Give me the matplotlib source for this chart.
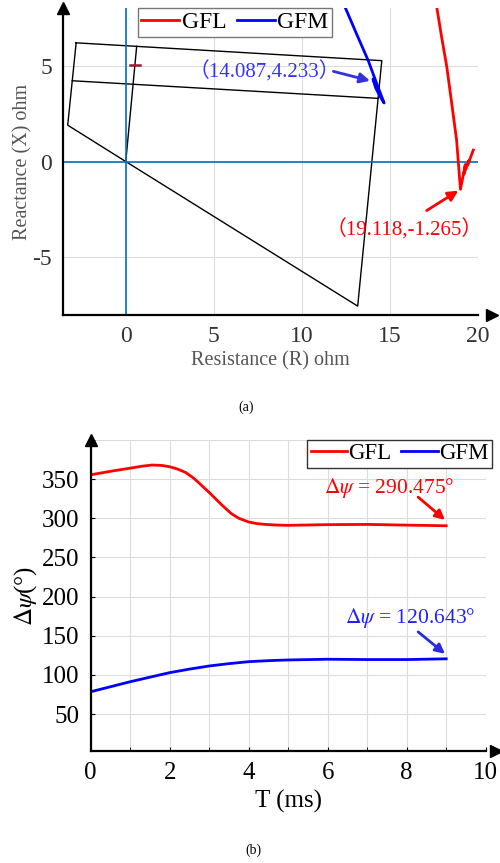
import matplotlib
matplotlib.use("Agg")
import matplotlib.pyplot as plt

plt.rcParams.update({"font.family": ["Liberation Serif", "Noto Sans CJK SC"],
                     "mathtext.fontset": "stix", "axes.linewidth": 1.6,
                     "axes.unicode_minus": False})

# ---- panel (a): impedance plane ----
zone_r = [-2.82, 14.55, 13.18, 0.0, -3.3, -2.82]
zone_x = [6.2, 5.27, -7.55, 0.0, 1.9, 6.2]
inner_r = [-3.04, 14.34]
inner_x = [4.22, 3.3]
reach_r = [0.0, 0.62]
reach_x = [0.0, 6.02]
mark_r = [0.25, 0.82]
mark_x = [5.06, 5.06]

gfm_r = [12.47, 13.1, 13.78, 14.25, 14.68, 14.45, 14.2, 14.05, 14.12, 14.087]
gfm_x = [8.05, 6.7, 5.27, 4.1, 3.06, 3.4, 3.85, 4.3, 4.35, 4.233]
gfl_r = [17.67, 17.95, 18.24, 18.5, 18.8, 19.02, 19.3, 19.22, 19.5, 19.42, 19.75]
gfl_x = [8.08, 6.5, 4.97, 3.2, 1.13, -1.45, -0.15, -0.65, 0.05, -0.2, 0.6]

# ---- panel (b): angle difference vs time ----
t_gfl = [0, 0.5, 1, 1.3, 1.55, 1.8, 2, 2.2, 2.4, 2.6, 2.73, 2.87, 3, 3.15, 3.3, 3.45, 3.56,
         3.75, 4, 4.2, 4.4, 4.7, 5, 6, 7, 8, 9]
psi_gfl = [355.5, 360, 364, 366.5, 368, 367.5, 365.8, 362.8, 358.6, 351.5, 345.7, 339, 333,
           325.5, 318, 311, 306, 300, 295.3, 293.3, 292.3, 291.4, 291, 291.9, 292.2, 291.3,
           290.475]
t_gfm = [0, 0.5, 1, 1.5, 2, 2.5, 3, 3.5, 4, 4.5, 5, 6, 7, 8, 9]
psi_gfm = [78.6, 85, 91.4, 97.2, 103, 107.5, 111.5, 114.5, 117, 118.3, 119.2, 120.1, 119.7,
           119.7, 120.643]

RED, BLUE = "#ff0000", "#0000ff"

fig = plt.figure(figsize=(5, 8.63), dpi=100)
ax1 = fig.add_axes([0.1266, 0.6353, 0.8288, 0.355])
ax2 = fig.add_axes([0.1814, 0.1298, 0.79, 0.3604])


def arrow(ax, tip, tail, color, size=15):
    ax.annotate("", xy=tip, xytext=tail,
                arrowprops=dict(arrowstyle="-|>", color=color, lw=2, mutation_scale=size,
                                shrinkA=0, shrinkB=0))


# (a)
ax1.plot(zone_r, zone_x, color="k", lw=1.0)
ax1.plot(inner_r, inner_x, color="k", lw=1.0)
ax1.plot(reach_r, reach_x, color="k", lw=1.0)
ax1.plot(mark_r, mark_x, color="#A2142F", lw=1.8)
ax1.axhline(0, color="#0072BD", lw=1.2)
ax1.axvline(0, color="#0072BD", lw=1.2)
ax1.plot(gfl_r, gfl_x, color=RED, lw=2, label="GFL")
ax1.plot(gfm_r, gfm_x, color=BLUE, lw=2, label="GFM")
ax1.set_xlim(-3.55, 20)
ax1.set_ylim(-8, 8)
ax1.set_xticks([0, 5, 10, 15, 20])
ax1.set_yticks([-5, 0, 5])
ax1.grid(color="#dcdcdc", lw=0.8)
ax1.tick_params(labelsize=17, colors="#333333", length=0, pad=8)
ax1.set_xlabel("Resistance (R) ohm", fontsize=14.5, color="#555555", labelpad=3)
ax1.set_ylabel("Reactance (X) ohm", fontsize=14.5, color="#555555", labelpad=0)
ax1.text(7.86, 4.66, "（14.087,4.233）", color="#3333ff", fontsize=15, ha="center", va="center")
arrow(ax1, (13.88, 4.22), (11.8, 4.71), "#3333dd")
ax1.text(15.84, -3.58, "（19.118,-1.265）", color=RED, fontsize=15, ha="center", va="center")
arrow(ax1, (18.9, -1.52), (17.1, -2.56), RED)
ax1.legend(loc="upper left", bbox_to_anchor=(0.18, 1.0), ncol=2, fontsize=17, frameon=True,
           fancybox=False, edgecolor="#777777", framealpha=1, borderaxespad=0,
           handlelength=1.6, handletextpad=0.1, columnspacing=0.45, borderpad=0.15)

# (b)
ax2.plot(t_gfl, psi_gfl, color=RED, lw=2, label="GFL")
ax2.plot(t_gfm, psi_gfm, color=BLUE, lw=2, label="GFM")
ax2.set_xlim(0, 10)
ax2.set_ylim(3, 400)
ax2.set_xticks([0, 2, 4, 6, 8, 10])
ax2.set_xticks(range(0, 11), minor=True)
ax2.set_yticks([50, 100, 150, 200, 250, 300, 350])
ax2.set_yticks([50, 100, 150, 200, 250, 300, 350, 400], minor=True)
ax2.grid(which="both", color="#dcdcdc", lw=0.8)
ax2.tick_params(which="both", direction="in", length=3, labelsize=18, pad=8)
ax2.set_xlabel("T (ms)", fontsize=18, labelpad=4)
ax2.set_ylabel(r"$\Delta\psi$(°)", fontsize=18, labelpad=2)
ax2.text(7.55, 339, r"$\Delta\psi$ = 290.475°", color=RED, fontsize=15.5, ha="center", va="center")
arrow(ax2, (8.97, 298), (8.29, 327), RED, 14)
ax2.text(8.1, 173, r"$\Delta\psi$ = 120.643°", color="#2020ff", fontsize=15.5,
         ha="center", va="center")
arrow(ax2, (8.97, 127), (8.29, 155), "#2a2ae0", 14)
ax2.legend(loc="upper right", bbox_to_anchor=(1.015, 1.0), ncol=2, fontsize=16.5, frameon=True,
           fancybox=False, edgecolor="#333333", framealpha=1, borderaxespad=0,
           handlelength=1.6, handletextpad=0.05, columnspacing=0.4, borderpad=0.15)

for ax, xa in ((ax1, 1.035), (ax2, 1.026)):
    ax.spines["top"].set_visible(False)
    ax.spines["right"].set_visible(False)
    ax.plot(xa, 0, ">k", ms=9, transform=ax.transAxes, clip_on=False)
    ax.plot(0, 1.0, "^k", ms=9, transform=ax.transAxes, clip_on=False)

fig.text(0.492, 1 - 407 / 863, "(a)", ha="center", va="center", fontsize=10)
fig.text(0.506, 1 - 850 / 863, "(b)", ha="center", va="center", fontsize=10)

fig.savefig("out.png", dpi=100)
